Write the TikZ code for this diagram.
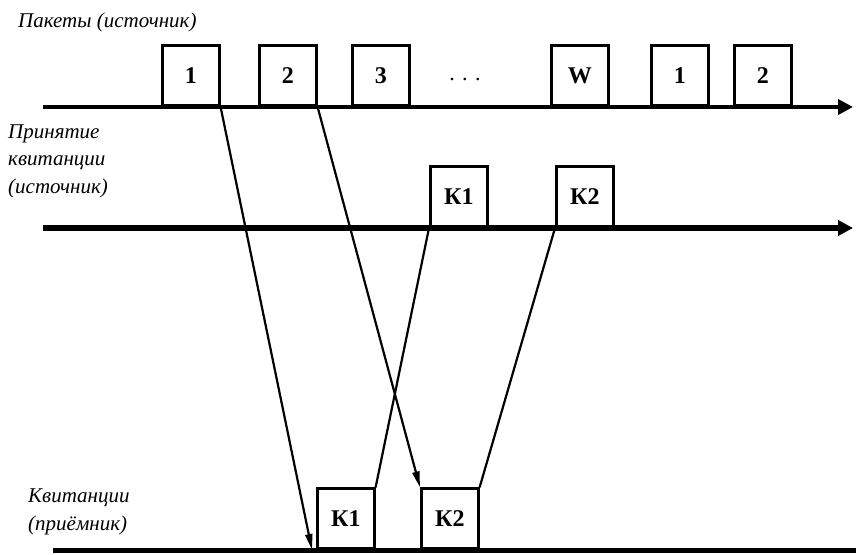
\documentclass[tikz,border=0pt]{standalone}
\usepackage{fontspec}
\setmainfont{Liberation Serif}
\usetikzlibrary{arrows.meta}

\tikzset{
	pkt/.style={draw, line width=2.6pt, minimum width=57pt, minimum height=60pt,
		inner sep=0pt, anchor=south west, font=\fontsize{24}{28}\selectfont\bfseries},
	lbl/.style={anchor=west, align=left, inner sep=0pt,
		font=\fontsize{21}{27.5}\selectfont\itshape},
	msg/.style={line width=2.2pt},
	axis/.style={-{Triangle[length=15pt, width=15pt]}},
}

\begin{document}
\begin{tikzpicture}[x=1pt, y=-1pt]
		\useasboundingbox (0, 0) rectangle (856, 554);

		% time lines
		\coordinate (s0) at (43, 107);
		\coordinate (e0) at (853, 107);
		\coordinate (s1) at (43, 228);
		\coordinate (e1) at (853, 228);
		\coordinate (s2) at (53, 550);
		\coordinate (e2) at (856, 550);
		\draw[axis, line width=4pt] (s0) -- (e0);
		\draw[axis, line width=6.5pt] (s1) -- (e1);
		\draw[line width=5pt] (s2) -- (e2);

		\node[lbl] (src) at (18, 22) {Пакеты (источник)};
		\node[lbl] (ack) at (8, 161) {Принятие\\квитанции\\(источник)};
		\node[lbl] (dst) at (28, 512) {Квитанции\\(приёмник)};

		% packets
		\node[pkt] (p1) at (161, 107) {1};
		\node[pkt] (p2) at (258, 107) {2};
		\node[pkt] (p3) at (351, 107) {3};
		\node (dots) at (465, 80) {\fontsize{22}{24}\selectfont .\,\,.\,\,.};
		\node[pkt] (pw) at (550, 107) {W};
		\node[pkt] (q1) at (650, 107) {1};
		\node[pkt] (q2) at (733, 107) {2};

		% acks, source side
		\node[pkt] (a1) at (429, 228) {К1};
		\node[pkt] (a2) at (555, 228) {К2};

		% acks, receiver side
		\node[pkt] (r1) at (316, 550) {К1};
		\node[pkt] (r2) at (420, 550) {К2};

		\coordinate (hit) at (312, 550);
		\draw[msg, -{Triangle[length=16pt, width=7pt]}] (p1.south east) -- (hit);
		\draw[msg, -{Triangle[length=16pt, width=7pt]}] (p2.south east) -- (r2.north west);
		\draw[msg] (r1.north east) -- (a1.south west);
		\draw[msg] (r2.north east) -- (a2.south west);
	\end{tikzpicture}
\end{document}
